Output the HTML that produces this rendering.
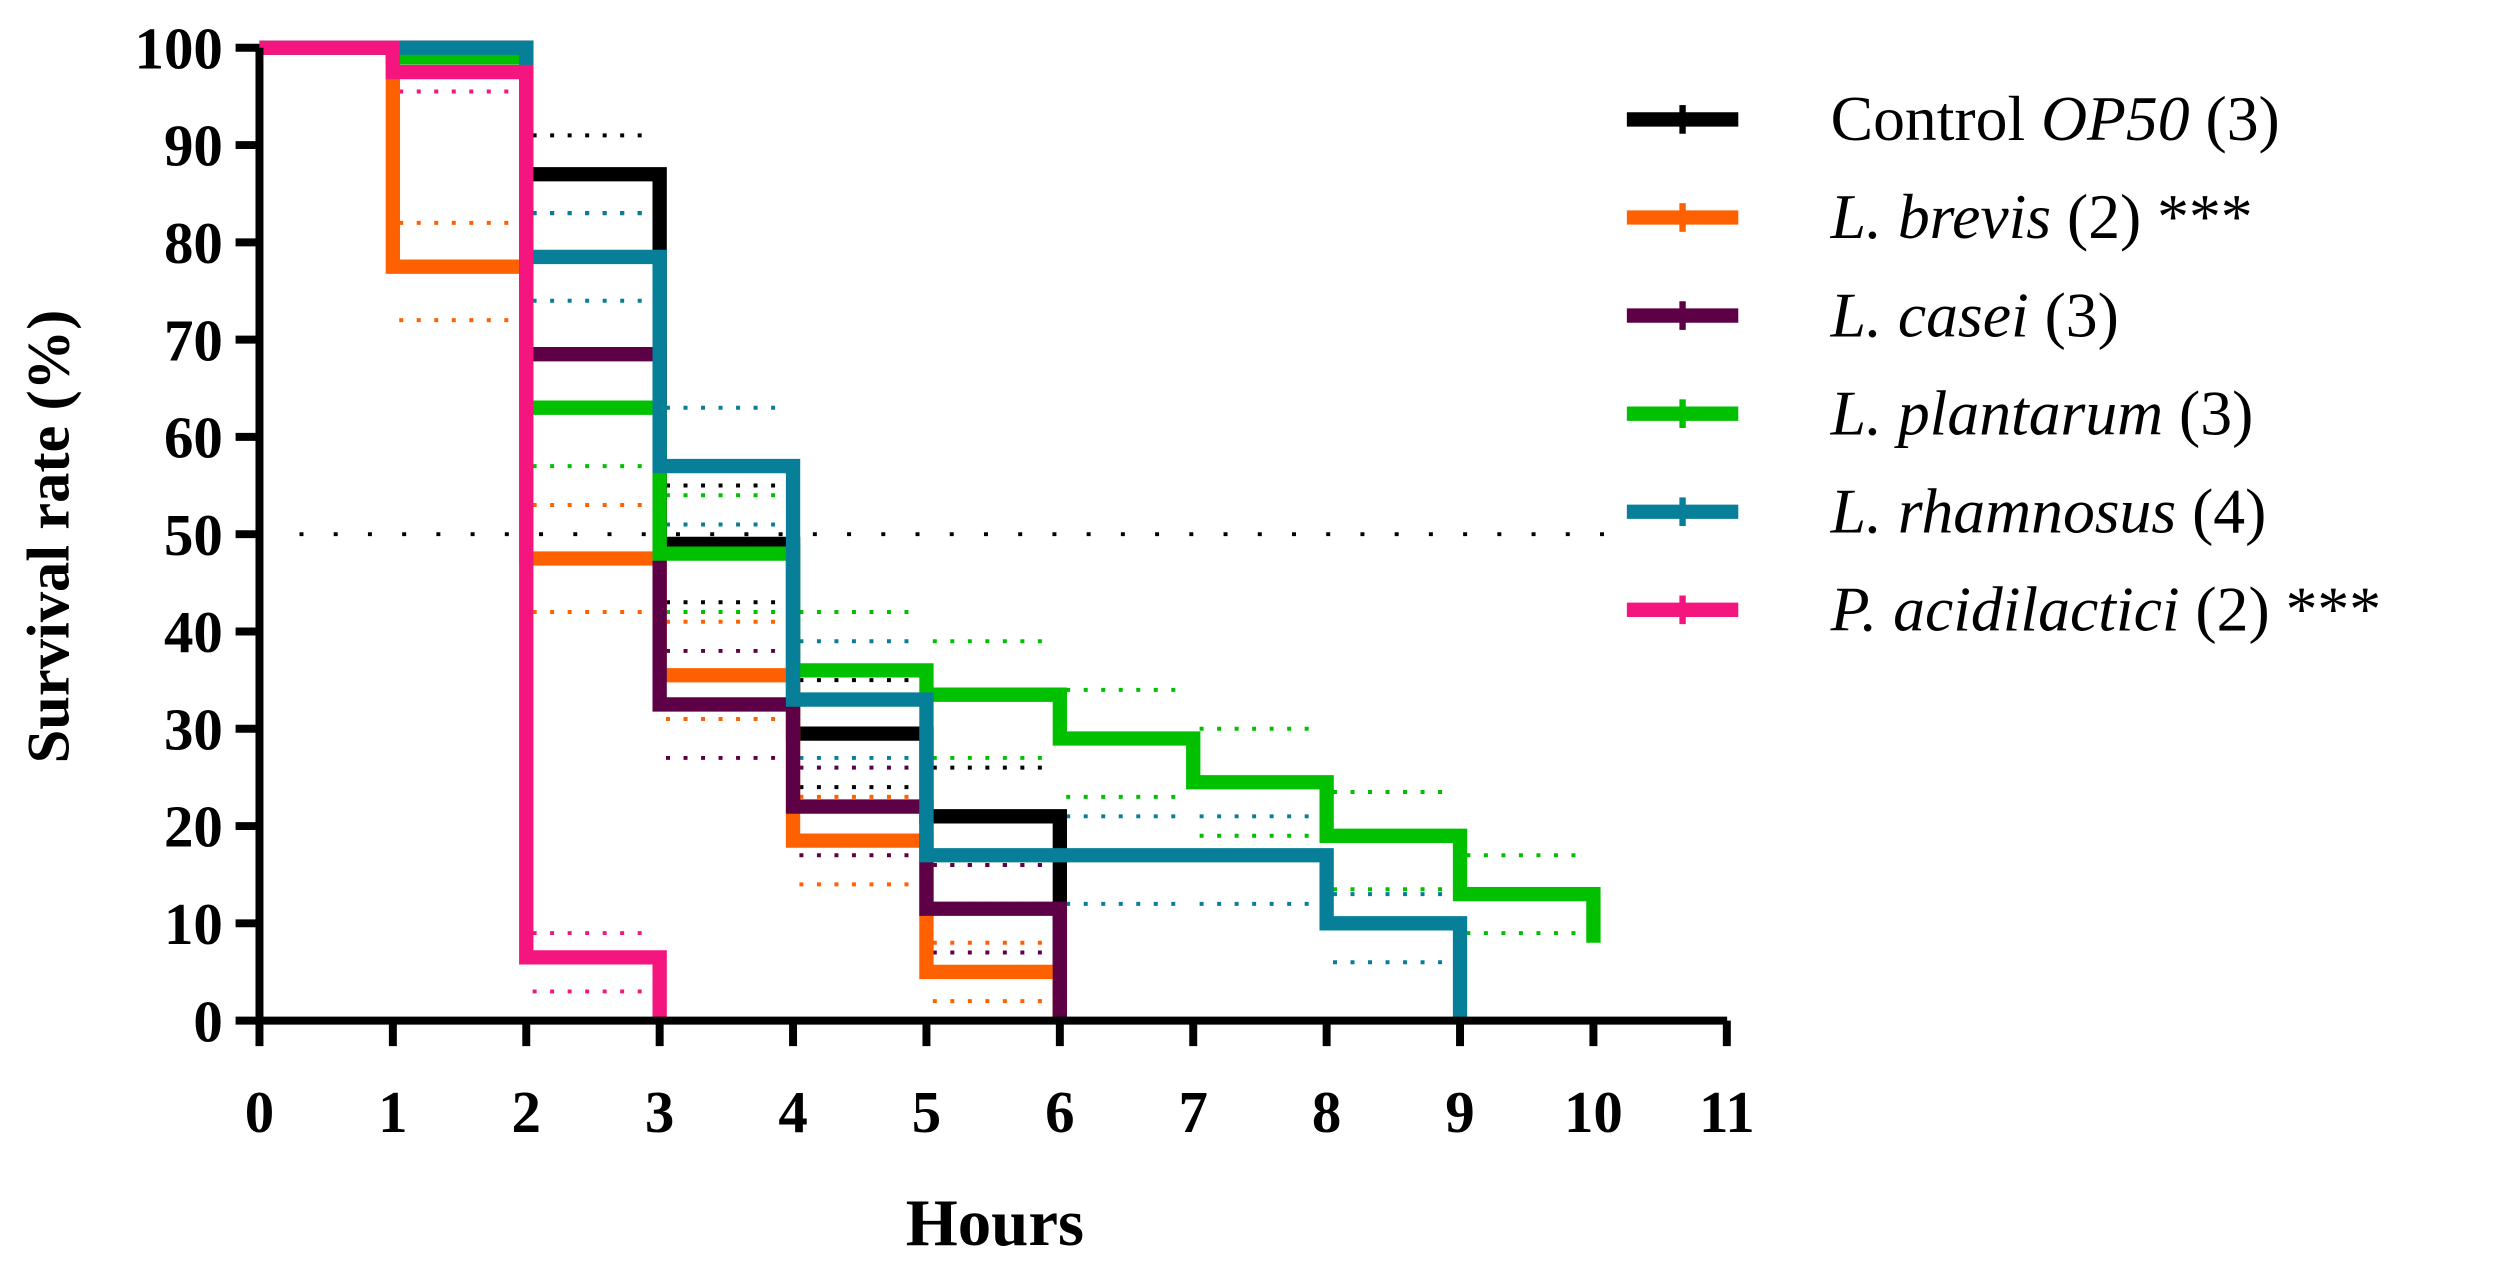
<!DOCTYPE html>
<html><head><meta charset="utf-8"><style>
body{margin:0;background:#fff}
svg{display:block}
text{font-family:"Liberation Serif",serif}
</style></head><body>
<svg id="chart" width="2496" height="1269" viewBox="0 0 1568 797" preserveAspectRatio="none"></svg>
<script>
const hours=[0,1,2,3,4,5,6,7,8,9,10,11];
const yTicks=[0,10,20,30,40,50,60,70,80,90,100];
const seriesNames=["Control OP50","L. brevis","L. casei","L. plantarum","L. rhamnosus","P. acidilactici"];
const colors=["#000000","#ff6000","#5e0046","#00c000","#087f98","#f5157f"];
const controlVals=[100,100,87,49,29.5,21,0];
const brevisVals=[100,77.5,47.5,35.5,18.5,5,0];
const caseiVals=[100,100,68.5,32.5,22,11.5,0];
const plantarumVals=[100,99,63,48,36,33.5,29,24.5,19,13,8];
const rhamnosusVals=[100,100,78.5,57,33,17,17,17,10,0];
const acidVals=[100,97.5,6.5,0];
const controlUp=[100,100,91,55,35,26];
const controlLo=[100,100,83,43,24,16];
const brevisUp=[100,82,53,41,23,8];
const brevisLo=[100,72,42,31,14,2];
const caseiUp=[100,100,68.5,38,26,16];
const caseiLo=[100,100,68.5,27,17,7];
const plantarumUp=[100,99,68,54,42,39,34,30,23.5,17];
const plantarumLo=[100,99,57,42,30,27,23,19,13.5,9];
const rhamnosusUp=[100,100,83,63,39,21,21,21,13];
const rhamnosusLo=[100,100,74,51,27,12,12,12,6];
const acidUp=[100,100,9];
const acidLo=[100,95.5,3];
const allVals=[controlVals,brevisVals,caseiVals,plantarumVals,rhamnosusVals,acidVals];
const allUp=[controlUp,brevisUp,caseiUp,plantarumUp,rhamnosusUp,acidUp];
const allLo=[controlLo,brevisLo,caseiLo,plantarumLo,rhamnosusLo,acidLo];

const svg=document.getElementById('chart');
const NS='http://www.w3.org/2000/svg';
const X=h=>163+h*83.8;
const Y=v=>641-v*6.11;
function mk(tag,attrs,parent){const e=document.createElementNS(NS,tag);for(const k in attrs)e.setAttribute(k,attrs[k]);(parent||svg).appendChild(e);return e;}
function stepPath(vals){let d='M'+X(0)+','+Y(vals[0]);for(let i=1;i<vals.length;i++){d+=' H'+X(i)+' V'+Y(vals[i]);}return d;}
function ciPath(vals){let d='';for(let i=0;i<vals.length;i++){d+=' M'+(X(i)+4)+','+Y(vals[i])+' H'+(X(i+1)-4);}return d;}

const ref=mk('line',{x1:X(0.3),x2:X(10.3),y1:Y(50),y2:Y(50),stroke:'#000','stroke-width':2.5,'stroke-dasharray':'2.5 19'});



for(let s=0;s<6;s++){
  [allUp[s],allLo[s]].forEach((arr,j)=>{
    const p=mk('path',{d:ciPath(arr),fill:'none',stroke:colors[s],'stroke-width':2.5,'stroke-dasharray':'2.5 8.5'});
    
    
  });
}
for(let s=0;s<6;s++){
  const p=mk('path',{d:stepPath(allVals[s]),fill:'none',stroke:colors[s],'stroke-width':9,'stroke-linejoin':'miter'});
  
  
}
const ax=mk('path',{d:'M163,30 V641 H1085',fill:'none',stroke:'#000','stroke-width':5});


yTicks.forEach(v=>{
  const t=mk('line',{x1:148,x2:163,y1:Y(v),y2:Y(v),stroke:'#000','stroke-width':5});
  
  
  const l=mk('text',{x:140,y:Y(v)+13,'text-anchor':'end','font-size':37,'font-weight':'bold'});
  l.textContent=v;
  
  
});
hours.forEach(h=>{
  const t=mk('line',{x1:X(h),x2:X(h),y1:641,y2:657,stroke:'#000','stroke-width':5});
  
  
  const l=mk('text',{x:X(h),y:711,'text-anchor':'middle','font-size':37,'font-weight':'bold'});
  l.textContent=h;
  
  
});
const xt=mk('text',{x:625,y:782,'text-anchor':'middle','font-size':42,'font-weight':'bold'});
xt.textContent='Hours';


const yt=mk('text',{x:0,y:0,'text-anchor':'middle','font-size':38,'font-weight':'bold',transform:'translate(43,337) rotate(-90)'});
yt.textContent='Survival rate (%)';



const legendLabels=[
 ['Control ','OP50',' (3)'],['L. brevis','',' (2) ***'],['L. casei','',' (3)'],
 ['L. plantarum','',' (3)'],['L. rhamnosus','',' (4)'],['P. acidilactici','',' (2) ***']];
legendLabels.forEach((lab,i)=>{
  const y=75+i*61.6;
  const g=mk('g',{});
  
  
  mk('line',{x1:1022,x2:1092,y1:y,y2:y,stroke:colors[i],'stroke-width':9},g);
  mk('line',{x1:1057,x2:1057,y1:y-9,y2:y+9,stroke:colors[i],'stroke-width':4},g);
  const t=mk('text',{x:1150,y:y+13,'font-size':40},g);
  const parts=i===0?[[lab[0],false],[lab[1],true],[lab[2],false]]:[[lab[0],true],[lab[2],false]];
  parts.forEach(([s,it])=>{const sp=mk('tspan',{},t);if(it)sp.setAttribute('font-style','italic');sp.textContent=s;});
});
</script>
</body></html>
